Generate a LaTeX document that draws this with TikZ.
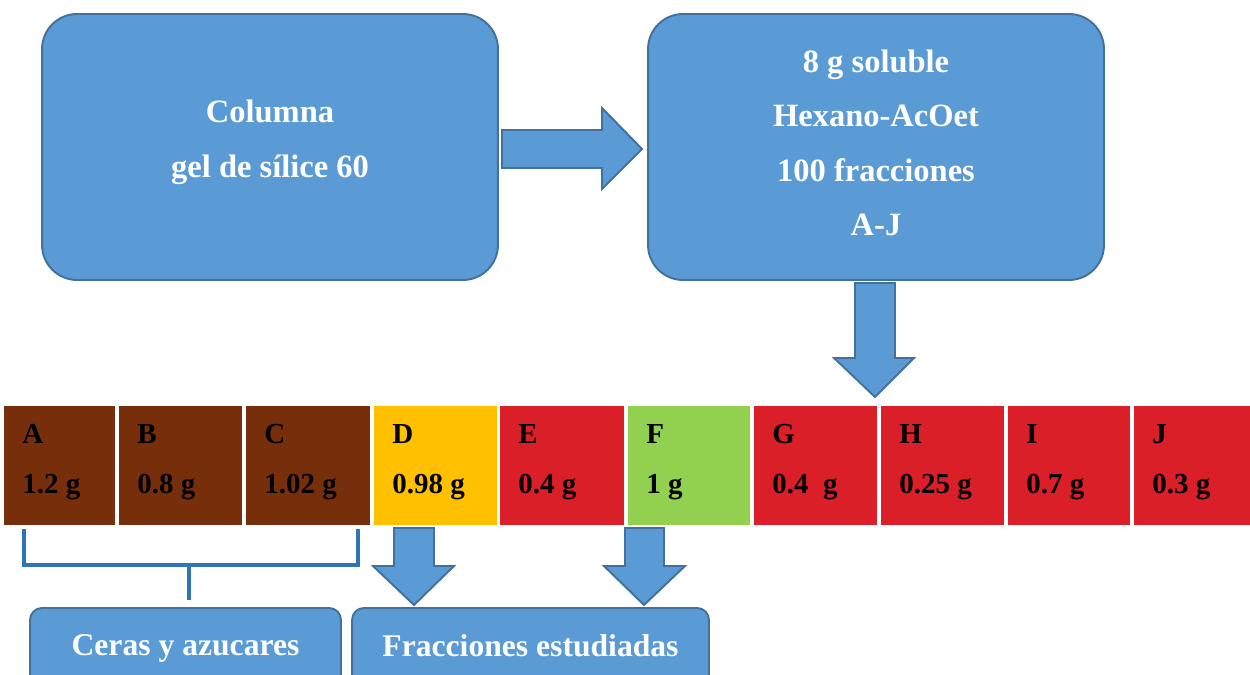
\documentclass[tikz,border=0pt]{standalone}
\usepackage{fontspec}
\setmainfont{Liberation Serif}
\usetikzlibrary{positioning}
\definecolor{boxblue}{HTML}{5B9BD5}
\definecolor{boxedge}{HTML}{41719C}
\definecolor{linkblue}{HTML}{2E75B6}
\definecolor{waxbrown}{HTML}{772F0B}
\definecolor{fracyellow}{HTML}{FFC000}
\definecolor{fracred}{HTML}{DA1F28}
\definecolor{fracgreen}{HTML}{92D050}

\begin{document}
\begin{tikzpicture}[x=0.02cm, y=-0.02cm,
        bigbox/.style={draw=boxedge, line width=1.1pt, fill=boxblue, rounded corners=0.7cm,
            minimum width=9.12cm, minimum height=5.32cm},
        boxtext/.style={align=center, text=white, font=\fontsize{18.5}{31}\selectfont\bfseries},
        tagbox/.style={draw=boxedge, line width=1.1pt, fill=boxblue, rounded corners=0.24cm,
            minimum height=1.64cm, text depth=4pt, text=white, font=\fontsize{18}{22}\selectfont\bfseries},
        cell/.style={minimum height=2.38cm, anchor=north west, inner sep=0pt},
        celltext/.style={anchor=base west, inner sep=0pt, font=\fontsize{16.5}{20}\selectfont\bfseries},
        blockarrow/.style={draw=boxedge, line width=1.1pt, fill=boxblue, line join=miter},
        bracket/.style={draw=linkblue, line width=2pt}
    ]
        \useasboundingbox (0,0) rectangle (1250,675);
        \clip (0,0) rectangle (1250,675);

        % 1. Column and its result
        \node[bigbox] (column) at (270,147) {};
        \node[boxtext] at ([yshift=0.09cm]column.center) {Columna\\gel de sílice 60};
        \node[bigbox] (eluate) at (876,147) {};
        \node[boxtext] at ([yshift=0.08cm]eluate.center) {8 g soluble\\Hexano-AcOet\\100 fracciones\\A-J};

        % 2. Block arrows
        \draw[blockarrow] (502,130) -- (602,130) -- (602,108) -- (642,149) -- (602,189) -- (602,168) -- (502,168) -- cycle;
        \draw[blockarrow] (855,283) -- (895,283) -- (895,358) -- (914,358) -- (875,397) -- (834,358) -- (855,358) -- cycle;

        % 3. The fractions
        \foreach \n/\w/\l/\r/\col in {A/1.2 g/4/115/waxbrown, B/0.8 g/119/242/waxbrown,
                C/1.02 g/246/370/waxbrown, D/0.98 g/374/497/fracyellow, E/0.4 g/500/624/fracred,
                F/1 g/628/750/fracgreen, G/0.4~~g/754/877/fracred, H/0.25 g/881/1004/fracred,
                I/0.7 g/1008/1130/fracred, J/0.3 g/1134/1252/fracred}{
            \node[cell, fill=\col, minimum width={(\r-\l)*0.02cm}] (c\n) at (\l,406) {};
            \node[celltext] at ([shift={(18,37)}]c\n.north west) {\n};
            \node[celltext] at ([shift={(18,87)}]c\n.north west) {\w};
        }

        % 4. Grouping below the fractions
        \node[tagbox, minimum width=6.22cm] (waxes) at (185.5,649) {Ceras y azucares};
        \node[tagbox, minimum width=7.14cm] (studied) at (530.5,649) {Fracciones estudiadas};

        \coordinate (stem) at (189,600);
        \draw[bracket] (24,529) -- (24,565) -- (358,565) -- (358,529);
        \draw[bracket] (189,565) -- (stem);

        \draw[blockarrow] (394,528) -- (434,528) -- (434,566) -- (454,566) -- (414,605) -- (373,566) -- (394,566) -- cycle;
        \draw[blockarrow] (625,528) -- (664,528) -- (664,566) -- (685,566) -- (644,605) -- (604,566) -- (625,566) -- cycle;

    \end{tikzpicture}
\end{document}
